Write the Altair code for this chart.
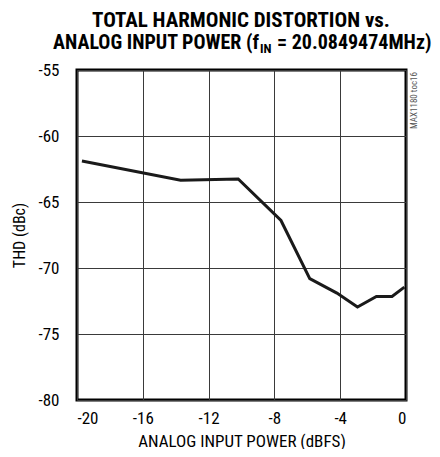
import altair as alt
import pandas as pd

# Data
power_dbfs = [-19.7, -13.7, -10.2, -7.6, -5.85, -4.2, -2.95, -1.8, -0.85, -0.1]
thd_dbc = [-61.9, -63.35, -63.25, -66.4, -70.8, -71.9, -72.95, -72.15, -72.15, -71.45]

x_ticks = [-20, -16, -12, -8, -4, 0]
y_ticks = [-80, -75, -70, -65, -60, -55]

title_line1 = "TOTAL HARMONIC DISTORTION vs."
title_line2_a = "ANALOG INPUT POWER (f"
title_line2_sub = "IN"
title_line2_b = "= 20.0849474MHz)"
watermark = "MAX1180 toc16"

NARROW = "Roboto Condensed, Liberation Sans Narrow, DejaVu Sans Condensed, sans-serif"

df = pd.DataFrame({"power": power_dbfs, "thd": thd_dbc})

line = alt.Chart(df).mark_line(color="#1a1a1a", strokeWidth=3, strokeJoin="miter").encode(
    x=alt.X("power:Q",
            scale=alt.Scale(domain=[-20, 0], nice=False, zero=False),
            axis=alt.Axis(values=x_ticks, title="ANALOG INPUT POWER (dBFS)",
                          labelExpr="'' + datum.value")),
    y=alt.Y("thd:Q",
            scale=alt.Scale(domain=[-80, -55], nice=False, zero=False),
            axis=alt.Axis(values=y_ticks, title="THD (dBc)",
                          labelExpr="'' + datum.value")),
)

def txt(text, x, y, size, align="left", weight="bold", color="black", angle=0, baseline="alphabetic"):
    return alt.Chart(pd.DataFrame({"t": [text]})).mark_text(
        align=align, baseline=baseline, fontSize=size, font=NARROW, fontWeight=weight,
        color=color, angle=angle,
    ).encode(x=alt.value(x), y=alt.value(y), text="t:N")

t1 = txt(title_line1, 164, -43, 21, align="center")
t2a = txt(title_line2_a, 182, -21, 20, align="right")
t2s = txt(title_line2_sub, 183, -17, 13, align="left")
t2b = txt(title_line2_b, 200, -21, 20, align="left")
wm = txt(watermark, 337, 2, 9, align="right", weight="normal", color="#555555", angle=270, baseline="middle")

chart = alt.layer(line, t1, t2a, t2s, t2b, wm).properties(
    width=329, height=330,
    autosize=alt.AutoSizeParams(type="none"),
    padding={"left": 69, "top": 62, "right": 26, "bottom": 49},
).configure_view(
    stroke="black", strokeWidth=3,
).configure_axis(
    domain=False, ticks=False, grid=True, gridColor="#3a3a3a", gridWidth=1, gridOpacity=1,
    labelFont=NARROW, labelFontSize=17, labelColor="black",
    titleFont=NARROW, titleFontSize=17, titleFontWeight="normal", titleColor="black",
).configure_axisX(
    labelPadding=10, titleY=46, titleBaseline="alphabetic",
).configure_axisY(
    labelPadding=18, titlePadding=10, titleFontSize=16,
)

chart.save("out.html", embed_options={"renderer": "svg", "actions": False})
